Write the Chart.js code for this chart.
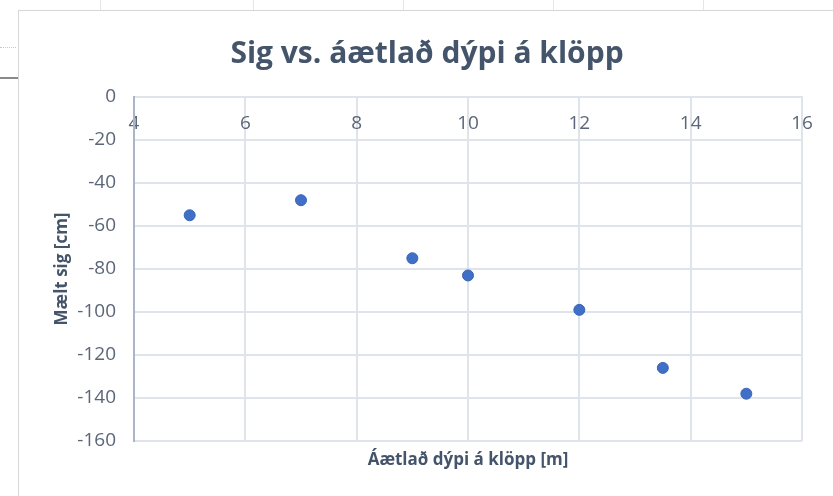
<!DOCTYPE html>
<html>
<head>
<meta charset="utf-8">
<script src="https://cdn.jsdelivr.net/npm/chart.js@4/dist/chart.umd.min.js"></script>
<style>
  html, body { margin: 0; padding: 0; background: #ffffff; }
  body { width: 833px; height: 496px; position: relative; overflow: hidden; }
  .frame { position: absolute; left: 18px; top: 10px; width: 900px; height: 600px;
           border: 1px solid #d6d6d6; box-sizing: border-box; }
  .sheet-rule { position: absolute; left: 0; top: 77px; width: 18px; height: 2px; background: #8a8a8a; }
  .sheet-dots { position: absolute; left: 0; top: 47px; width: 16px; border-top: 1px dotted #c8c8c8; }
  .cell { position: absolute; top: 0; width: 1px; height: 10px; background: #e6e6e6; }
  #wrap { position: absolute; left: 0; top: 0; width: 833px; height: 496px; }
</style>
</head>
<body>
<div class="cell" style="left:100px"></div>
<div class="cell" style="left:253px"></div>
<div class="cell" style="left:403px"></div>
<div class="cell" style="left:553px"></div>
<div class="cell" style="left:703px"></div>
<div class="sheet-dots"></div>
<div class="sheet-rule"></div>
<div class="frame"></div>
<div id="wrap"><canvas id="c" width="833" height="496"></canvas></div>
<script>
// Estimated depth to bedrock [m] and measured settlement [cm]
const depth = [5, 7, 9, 10, 12, 13.5, 15];
const settlement = [-55, -48, -75, -83, -99, -126, -138];

const chartTitle = 'Sig vs. áætlað dýpi á klöpp';
const xTitle = 'Áætlað dýpi á klöpp [m]';
const yTitle = 'Mælt sig [cm]';

const xRange = { min: 4, max: 16, step: 2 };
const yRange = { min: -160, max: 0, step: 20 };

const points = depth.map((d, i) => ({ x: d, y: settlement[i] }));

const FONT = "'Open Sans', 'Noto Sans', sans-serif";
const gridColor = '#dfe3ea';
const tickColor = '#5b6678';
const titleColor = '#44546a';

// Chart heading, centred over the whole chart frame rather than the plot area
const frameTitle = {
  id: 'frameTitle',
  afterDraw(chart, args, opts) {
    const ctx = chart.ctx;
    ctx.save();
    ctx.font = `bold ${opts.size}px ${FONT}`;
    ctx.fillStyle = opts.color;
    ctx.textAlign = 'center';
    ctx.textBaseline = 'alphabetic';
    ctx.fillText(opts.text, opts.x, opts.y);
    ctx.restore();
  }
};

new Chart(document.getElementById('c'), {
  type: 'scatter',
  data: {
    datasets: [{
      data: points,
      backgroundColor: '#3f6fc6',
      borderColor: '#3964b6',
      borderWidth: 1,
      pointRadius: 5.5,
      pointHoverRadius: 5.5
    }]
  },
  plugins: [frameTitle],
  options: {
    responsive: false,
    animation: false,
    events: [],
    layout: { padding: { left: 0, right: 31, top: 97, bottom: 0 } },
    plugins: {
      legend: { display: false },
      tooltip: { enabled: false },
      title: { display: false },
      frameTitle: { text: chartTitle, color: titleColor, size: 30, x: 427, y: 63 }
    },
    scales: {
      x: {
        type: 'linear',
        position: { y: 0 },
        min: xRange.min,
        max: xRange.max,
        ticks: {
          stepSize: xRange.step,
          color: tickColor,
          padding: 15,
          font: { family: FONT, size: 19 }
        },
        grid: { color: gridColor, lineWidth: 2, drawTicks: false },
        border: { display: true, color: gridColor, width: 2 }
      },
      x2: {
        type: 'linear',
        position: 'bottom',
        min: xRange.min,
        max: xRange.max,
        ticks: { display: false },
        grid: { display: false, drawTicks: false },
        border: { display: false },
        title: {
          display: true,
          text: xTitle,
          color: titleColor,
          font: { family: FONT, size: 17, weight: 'bold', lineHeight: 1.2 },
          padding: { top: 0, bottom: 26 }
        },
        afterFit: (scale) => { scale.height = 55; }
      },
      y: {
        type: 'linear',
        position: 'left',
        min: yRange.min,
        max: yRange.max,
        ticks: {
          stepSize: yRange.step,
          color: tickColor,
          padding: 18,
          font: { family: FONT, size: 19 }
        },
        grid: { color: gridColor, lineWidth: 2, drawTicks: false },
        border: { display: true, color: '#aab5c7', width: 2 },
        title: {
          display: true,
          text: yTitle,
          color: titleColor,
          font: { family: FONT, size: 17, weight: 'bold', lineHeight: 1.2 },
          padding: { top: 52, bottom: 0 }
        },
        afterFit: (scale) => { scale.width = 134; }
      }
    }
  }
});
</script>
</body>
</html>
